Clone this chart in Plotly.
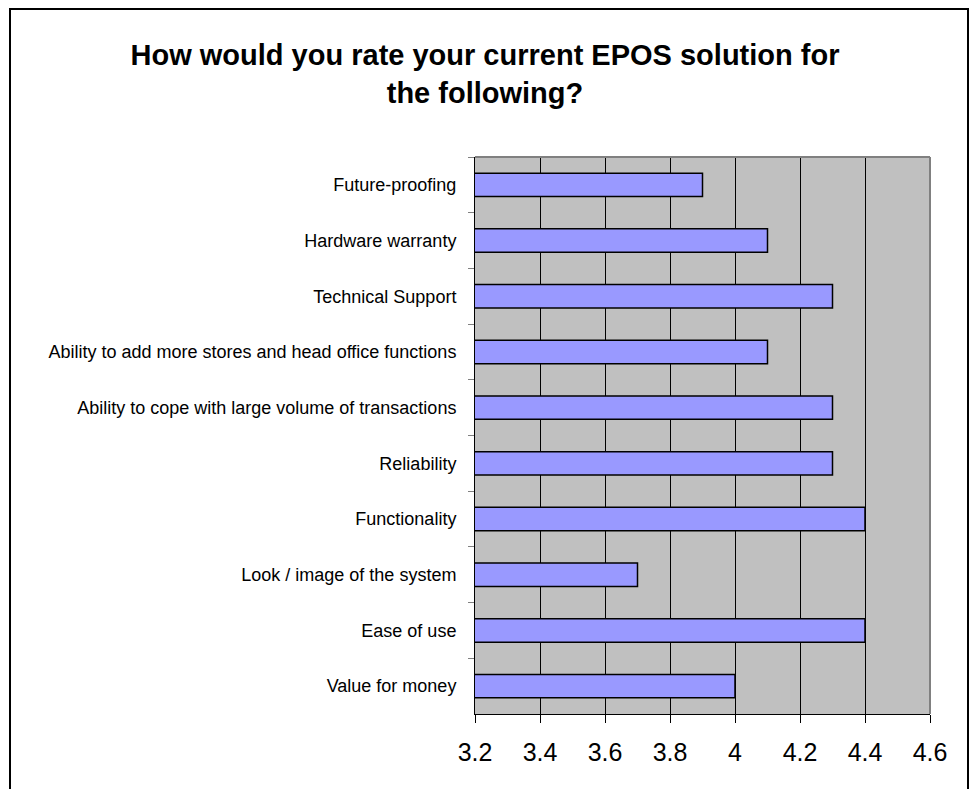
import plotly.graph_objects as go

# Survey ratings, listed top to bottom as they appear on the chart
categories = [
    "Future-proofing",
    "Hardware warranty",
    "Technical Support",
    "Ability to add more stores and head office functions",
    "Ability to cope with large volume of transactions",
    "Reliability",
    "Functionality",
    "Look / image of the system",
    "Ease of use",
    "Value for money",
]
ratings = [3.9, 4.1, 4.3, 4.1, 4.3, 4.3, 4.4, 3.7, 4.4, 4.0]
x_ticks = [3.2, 3.4, 3.6, 3.8, 4.0, 4.2, 4.4, 4.6]
x_tick_text = ["3.2", "3.4", "3.6", "3.8", "4", "4.2", "4.4", "4.6"]

W, H = 970, 789
ML, MR, MT, MB = 475, 40, 157, 75
FONT = "Liberation Sans, Arial, sans-serif"

fig = go.Figure(
    go.Bar(
        x=ratings,
        y=categories,
        orientation="h",
        width=0.42,
        marker=dict(color="#9999FF", line=dict(color="#000000", width=1.5)),
        hoverinfo="x+y",
    )
)

pw, ph = W - ML - MR, H - MT - MB


def px_x(v):
    return (v - ML) / pw


def px_y(v):
    return (H - MB - v) / ph


fig.update_layout(
    width=W,
    height=H,
    margin=dict(l=ML, r=MR, t=MT, b=MB, autoexpand=False),
    paper_bgcolor="#FFFFFF",
    plot_bgcolor="#C0C0C0",
    showlegend=False,
    font=dict(family=FONT, color="#000000"),
    title=dict(
        text="<b>How would you rate your current EPOS solution for<br>the following?</b>",
        x=485 / W,
        xanchor="center",
        xref="container",
        y=1 - 65 / H,
        yanchor="middle",
        yref="container",
        font=dict(family=FONT, size=29, color="#000000"),
    ),
    xaxis=dict(
        range=[3.2, 4.6],
        tickvals=x_ticks,
        ticktext=x_tick_text,
        showgrid=True,
        gridcolor="#000000",
        gridwidth=1,
        zeroline=False,
        showline=True,
        linecolor="#000000",
        linewidth=1,
        ticks="outside",
        ticklen=8,
        tickcolor="#000000",
        ticklabelstandoff=8,
        tickfont=dict(family=FONT, size=25, color="#000000"),
        fixedrange=True,
    ),
    yaxis=dict(
        autorange="reversed",
        showgrid=False,
        zeroline=False,
        showline=True,
        linecolor="#000000",
        linewidth=1,
        ticks="outside",
        tickson="boundaries",
        ticklen=6,
        tickcolor="#808080",
        ticklabelstandoff=14,
        tickfont=dict(family=FONT, size=18, color="#000000"),
        fixedrange=True,
    ),
    shapes=[
        # grey frame on the top and right of the plotting area
        dict(type="line", xref="paper", yref="paper", x0=0, x1=1, y0=1, y1=1,
             line=dict(color="#808080", width=2)),
        dict(type="line", xref="paper", yref="paper", x0=1, x1=1, y0=0, y1=1,
             line=dict(color="#808080", width=2)),
        # outer chart border
        dict(type="rect", xref="paper", yref="paper",
             x0=px_x(10), x1=px_x(968), y0=px_y(H + 10), y1=px_y(9),
             line=dict(color="#000000", width=2), fillcolor="rgba(0,0,0,0)",
             layer="above"),
    ],
)

fig.write_html("out.html")
